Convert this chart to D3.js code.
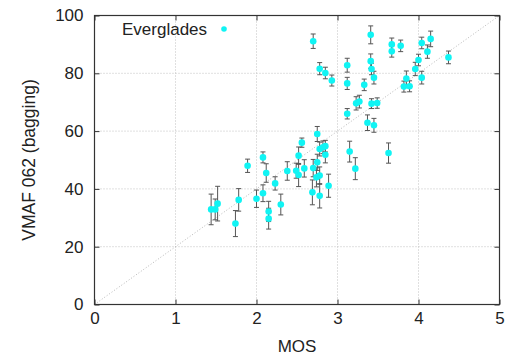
<!DOCTYPE html>
<html>
<head>
<meta charset="utf-8">
<script src="https://cdn.jsdelivr.net/npm/d3@7"></script>
<style>
  html, body { margin: 0; padding: 0; background: #fff; }
  svg { display: block; }
  text { font-family: "Liberation Sans", Arial, Helvetica, sans-serif; fill: #222; }
</style>
</head>
<body>
<svg id="chart" width="506" height="356"></svg>
<script>
// Subjective score (MOS) vs. predicted VMAF score, one entry per clip
const mos = [2.70, 2.78, 2.85, 2.93, 3.12, 3.12, 3.41, 3.41, 3.42, 3.45, 3.33, 3.67, 3.67, 3.78, 4.04, 4.15, 4.11, 4.37, 4.00, 3.96,
             4.04, 3.85, 3.82, 3.89, 3.23, 3.27, 3.42, 3.49, 3.12, 3.37, 3.45, 2.75, 2.56, 2.52, 2.78, 2.82, 2.85, 2.85, 3.15, 3.63,
             2.49, 2.52, 2.59, 2.70, 2.75, 2.74, 2.78, 3.22, 2.69, 2.78, 2.89, 1.89, 2.08, 2.12, 2.23, 2.38, 2.00, 2.08, 2.15, 2.15,
             2.30, 1.44, 1.49, 1.52, 1.74, 1.78];
const vmaf = [91.1, 81.6, 80.1, 77.5, 82.8, 76.5, 93.3, 84.2, 81.5, 78.5, 76.0, 90.0, 87.6, 89.5, 90.5, 91.9, 87.5, 85.5, 84.6, 81.5,
              78.5, 78.2, 75.4, 75.5, 69.6, 70.2, 69.5, 69.7, 66.0, 62.9, 62.0, 59.0, 56.0, 51.5, 53.8, 54.4, 54.8, 51.8, 52.9, 52.4,
              46.3, 44.8, 47.1, 47.2, 49.2, 44.0, 44.6, 47.0, 38.8, 37.6, 41.1, 48.0, 50.9, 45.5, 41.9, 46.2, 36.6, 38.5, 32.2, 29.7,
              34.6, 32.9, 32.9, 34.9, 28.0, 36.2];
// half-width of the error bar for each prediction
const vmafErr = [2.5, 2.1, 2.0, 1.9, 2.4, 2.1, 3.1, 2.5, 2.0, 2.2, 2.0, 2.2, 2.0, 2.0, 2.0, 2.7, 2.3, 2.2, 2.0, 2.3,
                 2.2, 2.6, 1.9, 1.9, 2.3, 2.2, 1.7, 1.8, 1.8, 2.7, 2.4, 2.6, 1.6, 3.0, 2.4, 2.2, 2.0, 2.8, 3.6, 3.5,
                 2.6, 4.0, 3.0, 3.0, 2.8, 3.3, 3.0, 3.8, 4.3, 4.2, 4.0, 2.3, 1.9, 3.2, 2.3, 3.2, 3.0, 2.9, 3.5, 3.6,
                 3.6, 5.3, 3.6, 6.0, 4.5, 3.9];
const xTicks = [0, 1, 2, 3, 4, 5];
const yTicks = [0, 20, 40, 60, 80, 100];
const seriesName = "Everglades";
const xLabel = "MOS";
const yLabel = "VMAF 062 (bagging)";

const points = mos.map((m, i) => ({ x: m, y: vmaf[i], e: vmafErr[i] }));

const svg = d3.select("#chart");
const L = 94.5, R = 499.5, T = 15.5, B = 304.5;
const x = d3.scaleLinear().domain([0, 5]).range([L, R]);
const y = d3.scaleLinear().domain([0, 100]).range([B, T]);

// grid
const grid = svg.append("g").attr("stroke", "#c0c0c0").attr("stroke-width", 1)
  .attr("stroke-dasharray", "1,2");
grid.selectAll("line.vx").data(xTicks.slice(1, -1)).join("line")
  .attr("x1", d => x(d)).attr("x2", d => x(d)).attr("y1", T).attr("y2", B);
grid.selectAll("line.hy").data(yTicks.slice(1, -1)).join("line")
  .attr("x1", L).attr("x2", R).attr("y1", d => y(d)).attr("y2", d => y(d));

// identity line
svg.append("line")
  .attr("x1", x(0)).attr("y1", y(0)).attr("x2", x(5)).attr("y2", y(100))
  .attr("stroke", "#b8b8b8").attr("stroke-width", 1).attr("stroke-dasharray", "1,2");

// axes with inward ticks
const fontSize = "17px";
const styleAxis = g => {
  g.select(".domain").remove();
  g.selectAll(".tick line").attr("stroke", "#333");
  g.selectAll(".tick text").attr("fill", "#222").style("font-size", fontSize)
    .style("font-family", '"Liberation Sans", Arial, sans-serif');
};
svg.append("g").attr("transform", `translate(0,${B})`)
  .call(d3.axisBottom(x).tickValues(xTicks).tickFormat(d3.format("d")).tickSizeInner(-5).tickSizeOuter(0).tickPadding(7))
  .call(styleAxis);
svg.append("g").attr("transform", `translate(0,${T})`)
  .call(d3.axisTop(x).tickValues(xTicks).tickFormat("").tickSizeInner(-5).tickSizeOuter(0))
  .call(styleAxis);
svg.append("g").attr("transform", `translate(${L},0)`)
  .call(d3.axisLeft(y).tickValues(yTicks).tickFormat(d3.format("d")).tickSizeInner(-5).tickSizeOuter(0).tickPadding(11))
  .call(styleAxis);
svg.append("g").attr("transform", `translate(${R},0)`)
  .call(d3.axisRight(y).tickValues(yTicks).tickFormat("").tickSizeInner(-5).tickSizeOuter(0))
  .call(styleAxis);

// frame
svg.append("rect").attr("x", L).attr("y", T).attr("width", R - L).attr("height", B - T)
  .attr("fill", "none").attr("stroke", "#333").attr("stroke-width", 1.2);

// error bars
const eb = svg.append("g").attr("stroke", "#555").attr("stroke-width", 1);
const cap = 2.5;
eb.selectAll("line.v").data(points).join("line")
  .attr("x1", d => x(d.x)).attr("x2", d => x(d.x))
  .attr("y1", d => y(d.y - d.e)).attr("y2", d => y(d.y + d.e));
eb.selectAll("line.t").data(points).join("line")
  .attr("x1", d => x(d.x) - cap).attr("x2", d => x(d.x) + cap)
  .attr("y1", d => y(d.y + d.e)).attr("y2", d => y(d.y + d.e));
eb.selectAll("line.b").data(points).join("line")
  .attr("x1", d => x(d.x) - cap).attr("x2", d => x(d.x) + cap)
  .attr("y1", d => y(d.y - d.e)).attr("y2", d => y(d.y - d.e));

// points
const cyan = "#10f4f4";
svg.append("g").selectAll("circle").data(points).join("circle")
  .attr("cx", d => x(d.x)).attr("cy", d => y(d.y)).attr("r", 3.3)
  .attr("fill", cyan);

// legend
svg.append("text").attr("x", 122).attr("y", 35).style("font-size", fontSize).text(seriesName);
svg.append("circle").attr("cx", 224).attr("cy", 29).attr("r", 2.8).attr("fill", cyan);

// axis titles
svg.append("text").attr("x", (L + R) / 2).attr("y", 351.5).attr("text-anchor", "middle")
  .style("font-size", fontSize).text(xLabel);
svg.append("text").attr("transform", `translate(35,${(T + B) / 2}) rotate(-90)`)
  .attr("text-anchor", "middle").style("font-size", "17.5px").text(yLabel);
</script>
</body>
</html>
